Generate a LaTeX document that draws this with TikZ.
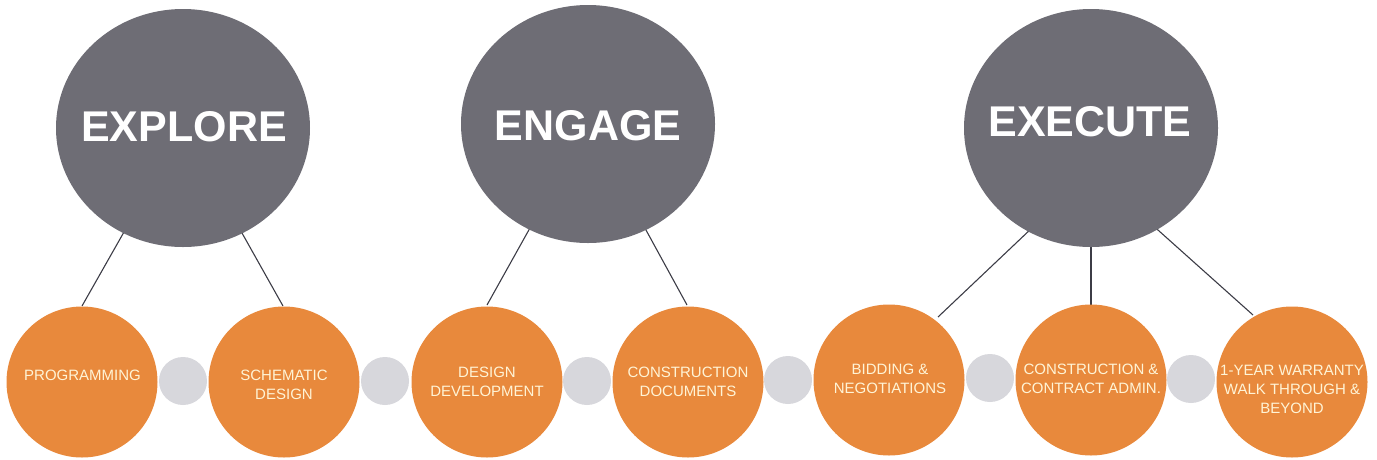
\documentclass[tikz,border=0pt]{standalone}
\usepackage{fontspec}
\setmainfont{Liberation Sans}
\usetikzlibrary{shapes.geometric}
\definecolor{biggrey}{HTML}{6E6D75}
\definecolor{stageorange}{HTML}{E8893C}
\definecolor{dotgrey}{HTML}{D7D7DC}
\definecolor{stagetext}{HTML}{FFF4D6}
\definecolor{linkline}{HTML}{3C3C46}
\tikzset{
  phase/.style={ellipse, fill=biggrey, draw=none, minimum width=254pt, minimum height=238pt, inner sep=0pt},
  phasetext/.style={text=white, font=\bfseries\fontsize{43}{43}\selectfont, inner sep=0pt},
  stage/.style={circle, fill=stageorange, draw=none, minimum size=151pt, inner sep=0pt},
  stagetxt/.style={text=stagetext, font=\fontsize{15}{19}\selectfont, align=center, inner sep=0pt},
  dot/.style={circle, fill=dotgrey, draw=none, minimum size=48pt, inner sep=0pt},
  link/.style={draw=linkline, line width=1.1pt}
}
\begin{document}
\begin{tikzpicture}[x=1pt,y=-1pt]
\useasboundingbox (0,0) rectangle (1377,459);
% anchor coordinates for hidden line ends
\coordinate (p1c) at (183,128);
\coordinate (p2c) at (588,124);
\coordinate (p3c) at (1091,128);
\coordinate (x1) at (1071,191);
\coordinate (x3) at (1111,188);
% stage centres
\path (82,382) coordinate (s1c) (284,382) coordinate (s2c) (487,382) coordinate (s3c)
      (688,382) coordinate (s4c) (889,380) coordinate (s5c) (1091,380) coordinate (s6c)
      (1292,382) coordinate (s7c);
% connectors
\draw[link] (82,306) coordinate (l1) -- (p1c);
\draw[link] (283,306) coordinate (l2) -- (p1c);
\draw[link] (487,305) coordinate (l3) -- (p2c);
\draw[link] (687,305) coordinate (l4) -- (p2c);
\draw[link] (938,317) coordinate (l5) -- (x1);
\draw[link] (1091,305) coordinate (l6) -- (p3c);
\draw[link] (1253,315) coordinate (l7) -- (x3);
% phases
\node[phase] (p1) at (p1c) {};
\node[phase] (p2) at (p2c) {};
\node[phase] (p3) at (p3c) {};
\node[phasetext] (t1) at (184,127) {EXPLORE};
\node[phasetext] (t2) at (588,126) {ENGAGE};
\node[phasetext] (t3) at (1090,122) {EXECUTE};
% dots
\node[dot] (d1) at (183,381) {};
\node[dot] (d2) at (385,381) {};
\node[dot] (d3) at (587,381) {};
\node[dot] (d4) at (788,380) {};
\node[dot] (d5) at (990,378) {};
\node[dot] (d6) at (1191,379) {};
% stage circles
\node[stage] (s1) at (s1c) {};
\node[stage] (s2) at (s2c) {};
\node[stage] (s3) at (s3c) {};
\node[stage] (s4) at (s4c) {};
\node[stage] (s5) at (s5c) {};
\node[stage] (s6) at (s6c) {};
\node[stage] (s7) at (s7c) {};
% stage labels
\node[stagetxt] (u1) at (82.5,375) {PROGRAMMING};
\node[stagetxt] (u2) at (284,384.5) {SCHEMATIC\\DESIGN};
\node[stagetxt] (u3) at (487,382) {DESIGN\\DEVELOPMENT};
\node[stagetxt] (u4) at (688,382) {CONSTRUCTION\\DOCUMENTS};
\node[stagetxt] (u5) at (890,378.5) {BIDDING \&\\NEGOTIATIONS};
\node[stagetxt] (u6) at (1091,379) {CONSTRUCTION \&\\CONTRACT ADMIN.};
\node[stagetxt] (u7) at (1292,389) {1-YEAR WARRANTY\\WALK THROUGH \&\\BEYOND};
\end{tikzpicture}
\end{document}
